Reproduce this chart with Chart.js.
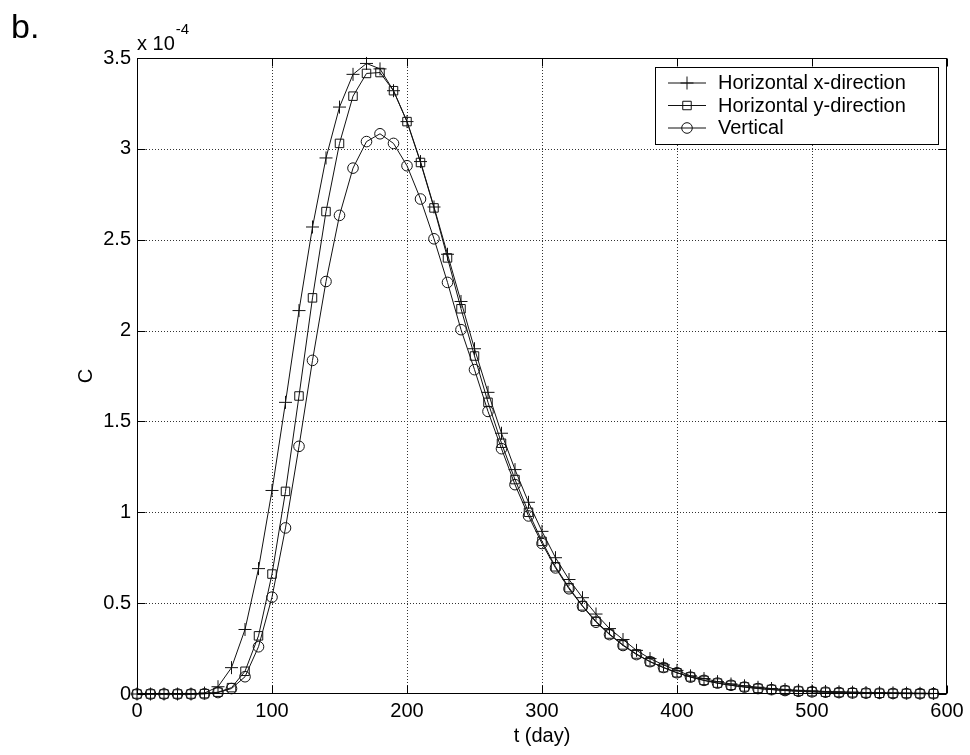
<!DOCTYPE html>
<html><head><meta charset="utf-8">
<script src="https://cdn.jsdelivr.net/npm/chart.js@4.4.1/dist/chart.umd.min.js"></script>
<style>html,body{margin:0;padding:0;background:#fff}</style>
</head><body>
<canvas id="c" width="970" height="755" style="width:970px;height:755px;display:block"></canvas>
<script>
const tDays = [0,10,20,30,40,50,60,70,80,90,100,110,120,130,140,150,160,170,180,190,200,210,220,230,240,250,260,270,280,290,300,310,320,330,340,350,360,370,380,390,400,410,420,430,440,450,460,470,480,490,500,510,520,530,540,550,560,570,580,590];
const cHorizX = [0,0,0,0,0,0.005,0.04,0.145,0.355,0.69,1.12,1.605,2.11,2.57,2.95,3.23,3.41,3.47,3.44,3.32,3.15,2.93,2.68,2.42,2.16,1.9,1.66,1.435,1.235,1.055,0.895,0.75,0.63,0.53,0.44,0.36,0.3,0.24,0.195,0.16,0.13,0.1,0.085,0.068,0.055,0.045,0.037,0.03,0.025,0.02,0.017,0.014,0.012,0.01,0.008,0.007,0.006,0.005,0.004,0.003];
const cHorizY = [0,0,0,0,0,0.002,0.01,0.035,0.125,0.32,0.66,1.115,1.64,2.18,2.655,3.03,3.29,3.415,3.42,3.32,3.15,2.925,2.675,2.4,2.12,1.86,1.605,1.38,1.18,1.0,0.84,0.7,0.585,0.485,0.4,0.33,0.27,0.22,0.178,0.145,0.117,0.094,0.075,0.06,0.048,0.039,0.031,0.025,0.02,0.016,0.013,0.01,0.008,0.007,0.005,0.004,0.003,0.003,0.002,0.002];
const cVertical = [0,0,0,0,0,0.001,0.008,0.03,0.095,0.26,0.533,0.914,1.363,1.836,2.27,2.634,2.894,3.04,3.083,3.03,2.907,2.724,2.505,2.265,2.005,1.785,1.555,1.35,1.152,0.98,0.828,0.694,0.579,0.483,0.395,0.327,0.267,0.217,0.178,0.146,0.117,0.093,0.075,0.06,0.048,0.038,0.03,0.024,0.019,0.015,0.012,0.01,0.008,0.006,0.005,0.004,0.003,0.002,0.002,0.002];
const seriesLabels = ['Horizontal x-direction','Horizontal y-direction','Vertical'];
const xTicks = [0,100,200,300,400,500,600];
const yTicks = [0,0.5,1,1.5,2,2.5,3,3.5];

const FONT = "'Liberation Sans', Arial, Helvetica, sans-serif";
const INK = '#111';

function pts(ys){ return tDays.map((t,i)=>({x:t,y:ys[i]})); }

const styles = [
  {pointStyle:'cross', pointRadius:6.5},
  {pointStyle:'rect', pointRadius:6},
  {pointStyle:'circle', pointRadius:5.3}
];
const seriesData = [cHorizX, cHorizY, cVertical];

const datasets = seriesData.map((d,i)=>({
  label: seriesLabels[i],
  data: pts(d),
  borderColor: INK,
  borderWidth: 1,
  backgroundColor: 'rgba(0,0,0,0)',
  pointBorderColor: INK,
  pointBackgroundColor: 'rgba(0,0,0,0)',
  pointBorderWidth: 1,
  pointStyle: styles[i].pointStyle,
  pointRadius: styles[i].pointRadius,
  pointHoverRadius: styles[i].pointRadius,
  tension: 0,
  clip: false
}));

const decor = {
  id:'decor',
  beforeDatasetsDraw(chart){
    const {ctx, chartArea:a, scales:{x,y}} = chart;
    ctx.save();
    ctx.strokeStyle = '#333';
    ctx.lineWidth = 1;
    ctx.setLineDash([1,2]);
    xTicks.forEach(v=>{
      const px = Math.round(x.getPixelForValue(v))+0.5;
      if (px < a.left+2 || px > a.right-2) return;
      ctx.beginPath(); ctx.moveTo(px,a.top); ctx.lineTo(px,a.bottom); ctx.stroke();
    });
    yTicks.forEach(v=>{
      const py = Math.round(y.getPixelForValue(v))+0.5;
      if (py < a.top+2 || py > a.bottom-2) return;
      ctx.beginPath(); ctx.moveTo(a.left,py); ctx.lineTo(a.right,py); ctx.stroke();
    });
    ctx.restore();
  },
  afterDatasetsDraw(chart){
    const {ctx, chartArea:a, scales:{x,y}} = chart;
    ctx.save();
    ctx.setLineDash([]);
    ctx.strokeStyle = '#000';
    ctx.lineWidth = 1;
    const L = Math.round(a.left)+0.5, R = Math.round(a.right)-0.5, T = Math.round(a.top)+0.5, B = Math.round(a.bottom)-0.5;
    ctx.strokeRect(L, T, R-L, B-T);
    const tl = 8;
    xTicks.forEach(v=>{
      const px = Math.round(x.getPixelForValue(v))+0.5;
      ctx.beginPath(); ctx.moveTo(px,B); ctx.lineTo(px,B-tl); ctx.moveTo(px,T); ctx.lineTo(px,T+tl); ctx.stroke();
    });
    yTicks.forEach(v=>{
      const py = Math.round(y.getPixelForValue(v))+0.5;
      ctx.beginPath(); ctx.moveTo(L,py); ctx.lineTo(L+tl,py); ctx.moveTo(R,py); ctx.lineTo(R-tl,py); ctx.stroke();
    });

    // legend box
    const bx = 655, by = 67, bw = 283, bh = 77;
    ctx.fillStyle = '#fff';
    ctx.fillRect(bx, by, bw, bh);
    ctx.strokeStyle = '#000';
    ctx.strokeRect(bx+0.5, by+0.5, bw, bh);
    const rows = [82.5, 105, 127.5];
    chart.data.datasets.forEach((ds,i)=>{
      const ry = rows[i];
      ctx.beginPath(); ctx.strokeStyle = INK; ctx.lineWidth = 1;
      ctx.moveTo(668, ry+0.5); ctx.lineTo(706, ry+0.5); ctx.stroke();
      ctx.fillStyle = 'rgba(0,0,0,0)';
      ctx.strokeStyle = INK;
      Chart.helpers.drawPoint(ctx, {pointStyle: ds.pointStyle, radius: ds.pointRadius, borderWidth: 1}, 687, ry+0.5);
      ctx.fillStyle = '#000';
      ctx.font = '20px ' + FONT;
      ctx.textAlign = 'left'; ctx.textBaseline = 'middle';
      ctx.fillText(ds.label, 718, ry+1);
    });

    // texts
    ctx.fillStyle = '#000';
    ctx.textAlign = 'left'; ctx.textBaseline = 'alphabetic';
    ctx.font = '34px ' + FONT;
    ctx.fillText('b.', 11, 38);
    ctx.font = '20px ' + FONT;
    ctx.fillText('x 10', 137, 50);
    const w = ctx.measureText('x 10').width;
    ctx.font = '15px ' + FONT;
    ctx.fillText('-4', 137 + w + 1, 34);
    ctx.font = '20px ' + FONT;
    ctx.textAlign = 'center'; ctx.textBaseline = 'middle';
    ctx.fillText('t (day)', (a.left+a.right)/2, 736);
    ctx.save();
    ctx.translate(86, (a.top+a.bottom)/2);
    ctx.rotate(-Math.PI/2);
    ctx.fillText('C', 0, 0);
    ctx.restore();
    ctx.restore();
  }
};

new Chart(document.getElementById('c'), {
  type: 'line',
  data: { datasets },
  options: {
    responsive: false,
    devicePixelRatio: 1,
    animation: false,
    events: [],
    layout: { padding: { top: 58, right: 23, left: 0, bottom: 0 } },
    plugins: { legend: { display: false }, tooltip: { enabled: false }, title: { display: false } },
    scales: {
      x: {
        type: 'linear', min: 0, max: 600,
        afterBuildTicks: s => { s.ticks = xTicks.map(v=>({value:v})); },
        afterFit: s => { s.height = 61; },
        grid: { display: false, drawTicks: false },
        border: { display: false },
        ticks: { color: '#000', font: { family: FONT, size: 20 }, padding: 5, maxRotation: 0, autoSkip: false, callback: v => String(v) }
      },
      y: {
        type: 'linear', min: 0, max: 3.5,
        afterBuildTicks: s => { s.ticks = yTicks.map(v=>({value:v})); },
        afterFit: s => { s.width = 137; },
        grid: { display: false, drawTicks: false },
        border: { display: false },
        ticks: { color: '#000', font: { family: FONT, size: 20 }, padding: 6, autoSkip: false, callback: v => String(v) }
      }
    }
  },
  plugins: [decor]
});
</script>
</body></html>
